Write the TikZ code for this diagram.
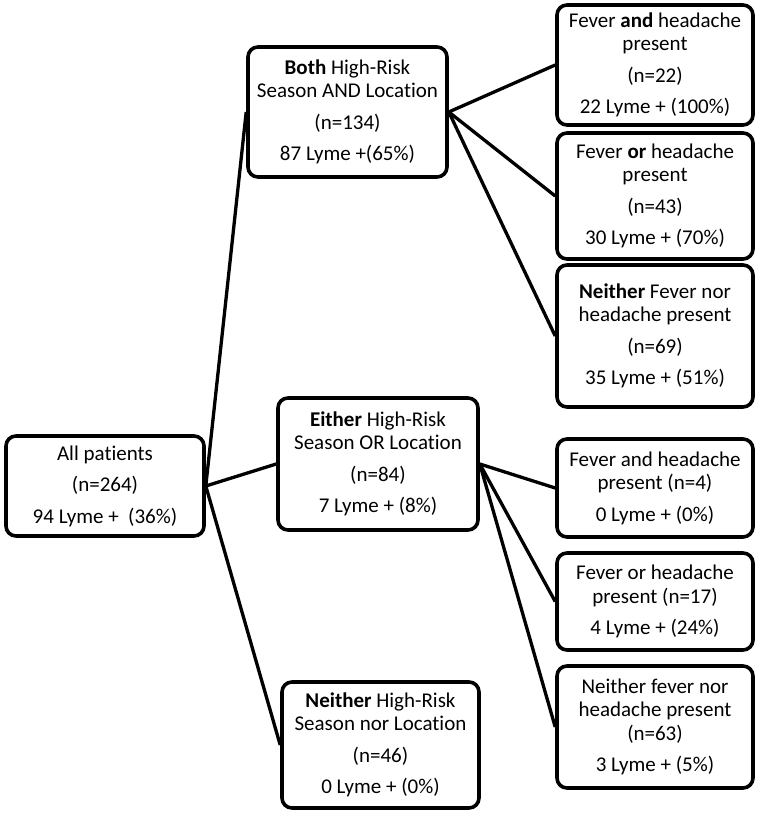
\documentclass[tikz,border=0pt]{standalone}
\usepackage{fontspec}
\setmainfont[Ligatures=NoCommon]{Carlito}
\begin{document}
\begin{tikzpicture}[x=1pt,y=-1pt,
  box/.style={draw, line width=3.6pt, rounded corners=10pt, inner sep=0pt, align=center,
    font=\fontsize{21}{23.5}\selectfont},
  link/.style={line width=3.3pt}]
\useasboundingbox (0,0) rectangle (762,816);
\def\pg{\\[8pt]}
\node[box, minimum width=198pt, minimum height=100pt] (root) at (105,486)
  {All patients\pg (n=264)\pg 94 Lyme +\ \ (36\%)};
\node[box, minimum width=199pt, minimum height=130pt] (both) at (347.5,112)
  {\textbf{Both} High-Risk\\ Season AND Location\pg (n=134)\pg 87 Lyme +(65\%)};
\node[box, minimum width=200pt, minimum height=132pt] (either) at (378,464)
  {\textbf{Either} High-Risk\\ Season OR Location\pg (n=84)\pg 7 Lyme + (8\%)};
\node[box, minimum width=197pt, minimum height=126pt] (neither) at (380.5,745)
  {\textbf{Neither} High-Risk\\ Season nor Location\pg (n=46)\pg 0 Lyme + (0\%)};
\node[box, minimum width=196pt, minimum height=120pt] (r1) at (655,65)
  {Fever \textbf{and} headache\\ present\pg (n=22)\pg 22 Lyme + (100\%)};
\node[box, minimum width=196pt, minimum height=126pt] (r2) at (655,196)
  {Fever \textbf{or} headache\\ present\pg (n=43)\pg 30 Lyme + (70\%)};
\node[box, minimum width=196pt, minimum height=142pt] (r3) at (655,336)
  {\textbf{Neither} Fever nor\\ headache present\pg (n=69)\pg 35 Lyme + (51\%)};
\node[box, minimum width=196pt, minimum height=98pt] (e1) at (655,488)
  {Fever and headache\\ present (n=4)\pg 0 Lyme + (0\%)};
\node[box, minimum width=196pt, minimum height=97pt] (e2) at (655,601.5)
  {Fever or headache\\ present (n=17)\pg 4 Lyme + (24\%)};
\node[box, minimum width=196pt, minimum height=122pt] (e3) at (655,727)
  {Neither fever nor\\ headache present\\ (n=63)\pg 3 Lyme + (5\%)};
\draw[link] (root.east) -- (both.west);
\draw[link] (root.east) -- (either.west);
\draw[link] (root.east) -- (neither.west);
\draw[link] (both.east) -- (r1.west);
\draw[link] (both.east) -- (r2.west);
\draw[link] (both.east) -- (r3.west);
\draw[link] (either.east) -- (e1.west);
\draw[link] (either.east) -- (e2.west);
\draw[link] (either.east) -- (e3.west);
\end{tikzpicture}
\end{document}
